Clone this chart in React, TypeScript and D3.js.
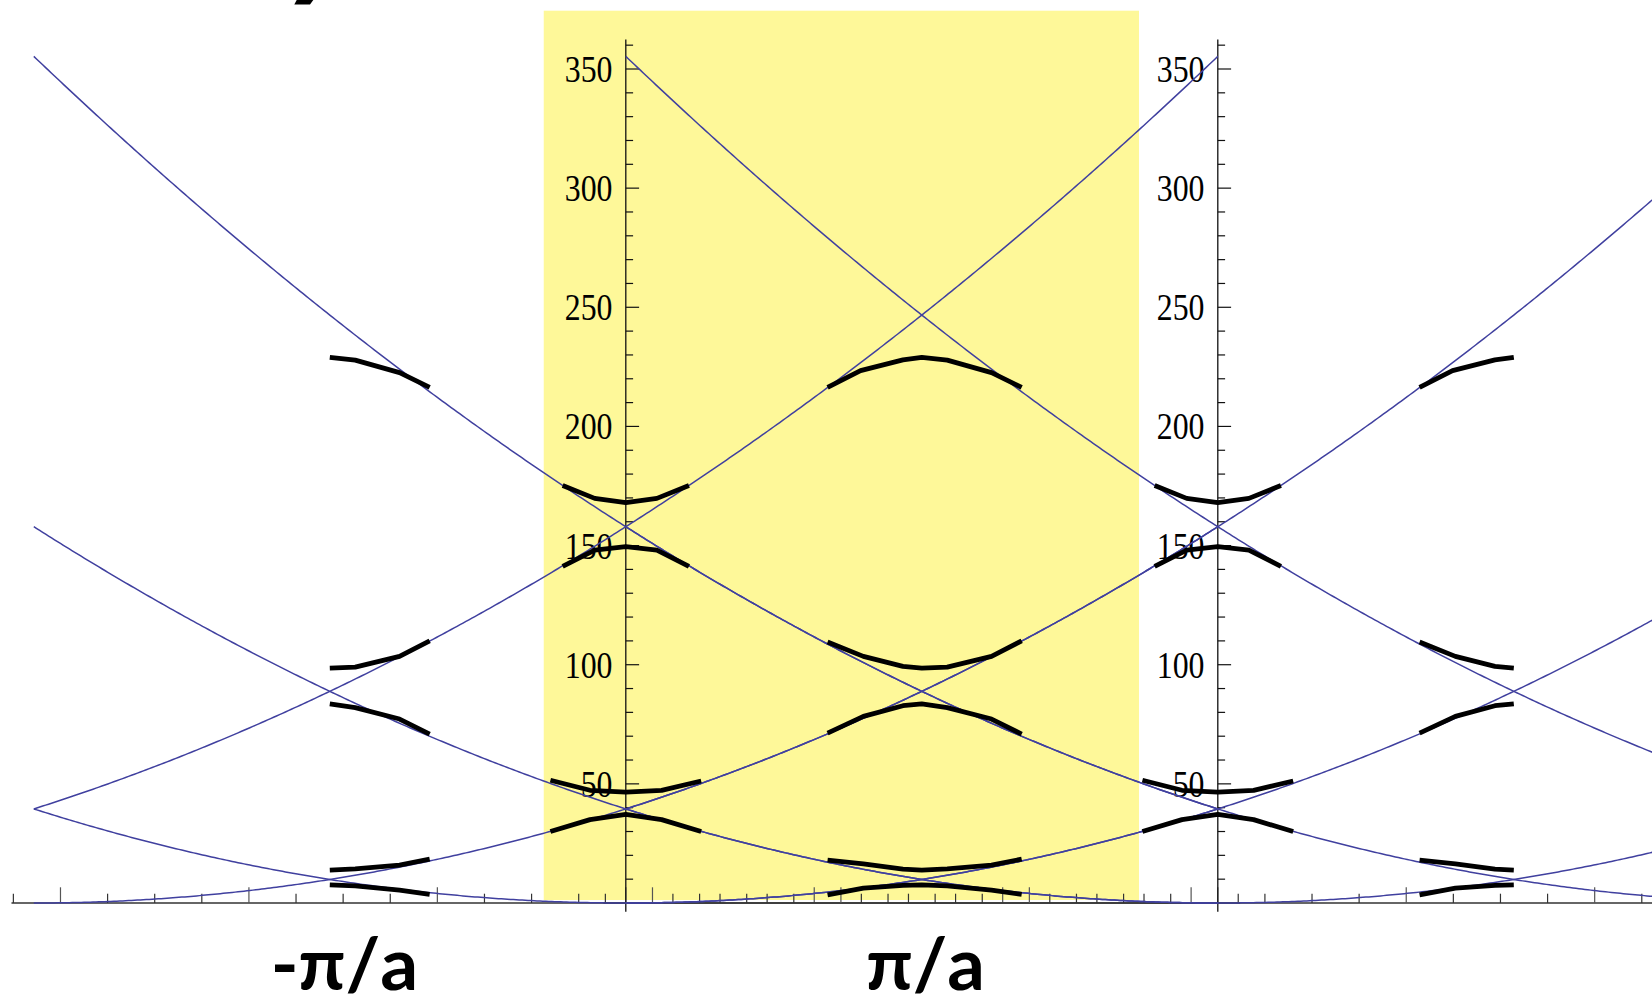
import React from "react";
import * as d3 from "d3";

const W = 1652;
const H = 1000;
const PI = Math.PI;

// Free-electron parabolas E = (k - 2πn)^2 ; orders n relative to each plot's origin
const parabolaOrders = [-2, -1, 0, 1, 2];
// two identical plots overlaid, second shifted by one reciprocal vector (units of 2π/a)
const plotShifts = [0, 1];
// k-domain of each plot, in units of 2π/a
const kDomain = [-1, 1];
// axis extents (with plot padding)
const kAxisPad = 6.52;
const eAxisRange = [-3.65, 362.4];

const yMajorTicks = [50, 100, 150, 200, 250, 300, 350];
const yMinorTicks = [10, 20, 30, 40, 60, 70, 80, 90, 110, 120, 130, 140, 160, 170, 180, 190, 210, 220, 230, 240, 260, 270, 280, 290, 310, 320, 330, 340, 360];
const xTickValues = d3.range(-6.5, 6.51, 0.5);
const xMajorTickValues = [-6, -4, -2, 0, 2, 4, 6];

// Band segments near zone centre (k offset from 0, energy)
const centerBand1 = [[-0.67, 175.2], [-0.33, 169.8], [0, 168.0], [0.33, 169.8], [0.67, 175.2]];
const centerBand2 = [[-0.67, 141.3], [-0.33, 148.1], [0, 149.6], [0.33, 148.1], [0.67, 141.3]];
const centerBand3 = [[-0.8, 51.5], [-0.38, 47.3], [0, 46.5], [0.38, 47.3], [0.8, 51.2]];
const centerBand4 = [[-0.8, 30.0], [-0.38, 35.0], [0, 37.2], [0.38, 35.0], [0.8, 30.0]];
const centerBands = [centerBand1, centerBand2, centerBand3, centerBand4];

// Band segments approaching the zone boundary +π from the left (k offset from π, energy)
const edgeLeft1 = [[-1, 216.4], [-0.65, 223.4], [-0.2, 227.9], [0, 229.0]];
const edgeLeft2 = [[-1, 109.5], [-0.62, 103.5], [-0.2, 99.3], [0, 98.6]];
const edgeLeft3 = [[-1, 71.3], [-0.62, 78.3], [-0.2, 82.8], [0, 83.6]];
const edgeLeft4 = [[-1, 18.0], [-0.62, 16.4], [-0.2, 14.2], [0, 13.8]];
const edgeLeft5 = [[-1, 3.4], [-0.62, 6.2], [-0.2, 7.4], [0, 7.6]];
const edgeLeftBands = [edgeLeft1, edgeLeft2, edgeLeft3, edgeLeft4, edgeLeft5];

// Band segments leaving the zone boundary -π to the right (k offset from -π, energy)
const edgeRight1 = [[0, 229.0], [0.27, 227.8], [0.74, 222.6], [1.06, 216.4]];
const edgeRight2 = [[0, 98.6], [0.27, 99.0], [0.74, 103.5], [1.06, 110.0]];
const edgeRight3 = [[0, 83.6], [0.27, 82.0], [0.74, 77.2], [1.06, 70.9]];
const edgeRight4 = [[0, 13.8], [0.27, 14.3], [0.74, 15.9], [1.06, 18.4]];
const edgeRight5 = [[0, 7.6], [0.27, 7.2], [0.74, 5.4], [1.06, 3.6]];
const edgeRightBands = [edgeRight1, edgeRight2, edgeRight3, edgeRight4, edgeRight5];

const kLabels = ["-π/a", "π/a"];

export default function App() {
  const x = d3.scaleLinear().domain([0, PI]).range([625.8, 921.8]);
  const y = d3.scaleLinear().domain([0, 350]).range([903, 69]);

  const blue = "#40409f";
  const line = d3.line<number[]>().x((d) => x(d[0])).y((d) => y(d[1]));

  const parabolaPaths: string[] = [];
  plotShifts.forEach((s) => {
    const k0 = 2 * PI * (s + kDomain[0]);
    const k1 = 2 * PI * (s + kDomain[1]);
    const ks = d3.range(0, 401).map((i) => k0 + ((k1 - k0) * i) / 400);
    parabolaOrders.forEach((n) => {
      const c = 2 * PI * (n + s);
      const pts = ks.map((k) => [k, (k - c) * (k - c)]);
      parabolaPaths.push(line(pts) as string);
    });
  });

  // join each left half with the right half that continues it across the zone boundary
  const bandPaths: string[] = [];
  plotShifts.forEach((s) => {
    const base = 2 * PI * s;
    centerBands.forEach((b) => bandPaths.push(line(b.map((p) => [base + p[0], p[1]])) as string));
  });
  // boundaries at -π, π, 3π: left half comes from the plot to the left, right half from the plot to the right
  const boundaryShifts = [-1, 0, 1];
  boundaryShifts.forEach((j) => {
    const kb = PI + 2 * PI * j;
    edgeLeftBands.forEach((b, i) => {
      const pts: number[][] = [];
      const hasLeft = plotShifts.includes(j);
      const hasRight = plotShifts.includes(j + 1);
      if (hasLeft) b.forEach((p) => pts.push([kb + p[0], p[1]]));
      if (hasRight) edgeRightBands[i].forEach((p, m) => {
        if (hasLeft && m === 0) return;
        pts.push([kb + p[0], p[1]]);
      });
      if (pts.length > 1) bandPaths.push(line(pts) as string);
    });
  });

  const serif = "'Liberation Serif', 'Times New Roman', serif";
  const fs = 38.5;
  const labelFont = "Lato, 'Open Sans', sans-serif";

  return (
    <svg width={W} height={H} style={{ position: "absolute", left: 0, top: 0, background: "#fff" }}>
      <rect x={543.75} y={10.7} width={1139 - 543.75} height={900 - 10.7} fill="#fef899" />
      {/* fragment of a cut-off heading glyph */}
      <path d="M296.7,0 L313.3,0 L310,4.5 L294.3,4.5 Z" fill="#000" />

      {plotShifts.map((s) => {
        const x0 = x(2 * PI * s);
        return (
          <g key={"ax" + s}>
            <line x1={x(2 * PI * s - kAxisPad)} x2={x(2 * PI * s + kAxisPad)} y1={y(0)} y2={y(0)} stroke="#333" strokeWidth={1.3} />
            {xTickValues.map((t) => {
              const major = xMajorTickValues.includes(t);
              return (
                <line key={"xt" + t} x1={x(2 * PI * s + t)} x2={x(2 * PI * s + t)} y1={y(0)} y2={y(0) - (major ? 15.7 : 9.3)} stroke={major ? "#555" : "#333"} strokeWidth={1.2} />
              );
            })}
            <line x1={x0} x2={x0} y1={y(eAxisRange[0])} y2={y(eAxisRange[1])} stroke="#111" strokeWidth={1.3} />
            {yMinorTicks.map((t) => (
              <line key={"ym" + t} x1={x0} x2={x0 + 7.3} y1={y(t)} y2={y(t)} stroke="#111" strokeWidth={1.2} />
            ))}
            {yMajorTicks.map((t) => (
              <g key={"yM" + t}>
                <line x1={x0} x2={x0 + 13.3} y1={y(t)} y2={y(t)} stroke="#111" strokeWidth={1.2} />
                <text x={x0 - 13.3 - String(t).length * 15.9} y={y(t) + 13} fontFamily={serif} fontSize={fs} textLength={String(t).length * 15.9} lengthAdjust="spacingAndGlyphs" fill="#000">
                  {t}
                </text>
              </g>
            ))}
          </g>
        );
      })}

      {parabolaPaths.map((d, i) => (
        <path key={"p" + i} d={d} fill="none" stroke={blue} strokeWidth={1.5} />
      ))}
      {bandPaths.map((d, i) => (
        <path key={"b" + i} d={d} fill="none" stroke="#000" strokeWidth={4.8} strokeLinecap="butt" strokeLinejoin="round" />
      ))}

      <text x={270.7} y={990} fontFamily={labelFont} fontWeight={700} fontSize={72} textLength={147.6} lengthAdjust="spacingAndGlyphs" fill="#000">
        {kLabels[0]}
      </text>
      <text x={866} y={990} fontFamily={labelFont} fontWeight={700} fontSize={72} textLength={119} lengthAdjust="spacingAndGlyphs" fill="#000">
        {kLabels[1]}
      </text>
    </svg>
  );
}
